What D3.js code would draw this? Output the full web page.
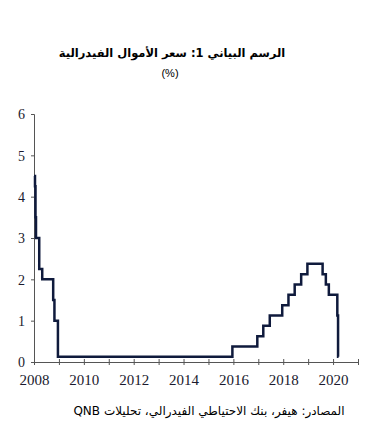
<!DOCTYPE html>
<html><head><meta charset="utf-8">
<script src="https://cdn.jsdelivr.net/npm/d3@7"></script>
<style>body{margin:0;background:#fff}svg{display:block}</style>
</head><body>
<script>
const dates = [2008.0, 2008.04, 2008.06, 2008.08, 2008.21, 2008.33, 2008.77, 2008.82, 2008.96, 2015.96, 2016.96, 2017.2, 2017.46, 2017.96, 2018.21, 2018.46, 2018.72, 2018.97, 2019.58, 2019.71, 2019.83, 2020.17, 2020.2, 2020.22];
const rates = [4.5, 4.25, 3.5, 3.0, 2.25, 2.0, 1.5, 1.0, 0.125, 0.375, 0.625, 0.875, 1.125, 1.375, 1.625, 1.875, 2.125, 2.375, 2.125, 1.875, 1.625, 1.125, 0.125, 0.125];
const yTicks = [0,1,2,3,4,5,6];
const xTickLabels = [2008,2010,2012,2014,2016,2018,2020];
const title = "الرسم البياني 1: سعر الأموال الفيدرالية";
const subtitle = "(%)";
const source = "المصادر: هيفر، بنك الاحتياطي الفيدرالي، تحليلات QNB";

const W=369,H=440;
const svg=d3.select("body").append("svg").attr("width",W).attr("height",H);
const x=d3.scaleLinear().domain([2008,2021]).range([34,358]);
const y=d3.scaleLinear().domain([0,6]).range([362,114]);

svg.append("text").attr("x",172).attr("y",57).attr("text-anchor","middle").attr("direction","rtl")
  .style("font-family","'DejaVu Sans', sans-serif").style("font-weight","bold").style("font-size","11.5px")
  .text(title);
svg.append("text").attr("x",170).attr("y",77).attr("text-anchor","middle")
  .style("font-family","'Liberation Sans', sans-serif").style("font-size","11px").text(subtitle);

const gy=svg.append("g").attr("transform","translate(34,0)")
  .call(d3.axisLeft(y).tickValues(yTicks).tickSize(3).tickFormat(d3.format("d")));
gy.select(".domain").attr("stroke","#555");
gy.selectAll(".tick line").attr("stroke","#555");
gy.selectAll("text").style("font-family","'Liberation Serif', serif").style("font-size","14px").attr("fill","#1a1a2e").attr("dx",-3).attr("dy","0.35em");

const gx=svg.append("g").attr("transform","translate(0,362)")
  .call(d3.axisBottom(x).tickValues(d3.range(2008,2022)).tickSizeOuter(0).tickSize(3)
    .tickFormat(d=>xTickLabels.includes(d)?String(d):""));
gx.select(".domain").attr("stroke","#555");
gx.selectAll(".tick line").attr("stroke","#555").attr("y1",-3).attr("y2",3);
gx.selectAll("text").style("font-family","'Liberation Serif', serif").style("font-size","15px").attr("fill","#1a1a2e").attr("y",0).attr("dy",23);

const pts=dates.map((d,i)=>[d,rates[i]]);
svg.append("path").datum(pts)
  .attr("d",d3.line().x(d=>x(d[0])).y(d=>y(d[1])).curve(d3.curveStepAfter))
  .attr("fill","none").attr("stroke","#0f1a3c").attr("stroke-width",2.5);

svg.append("text").attr("x",209).attr("y",415).attr("text-anchor","middle").attr("direction","rtl")
  .style("direction","rtl")
  .style("font-family","'DejaVu Sans', sans-serif").style("font-size","12px")
  .text(source);
</script>
</body></html>
